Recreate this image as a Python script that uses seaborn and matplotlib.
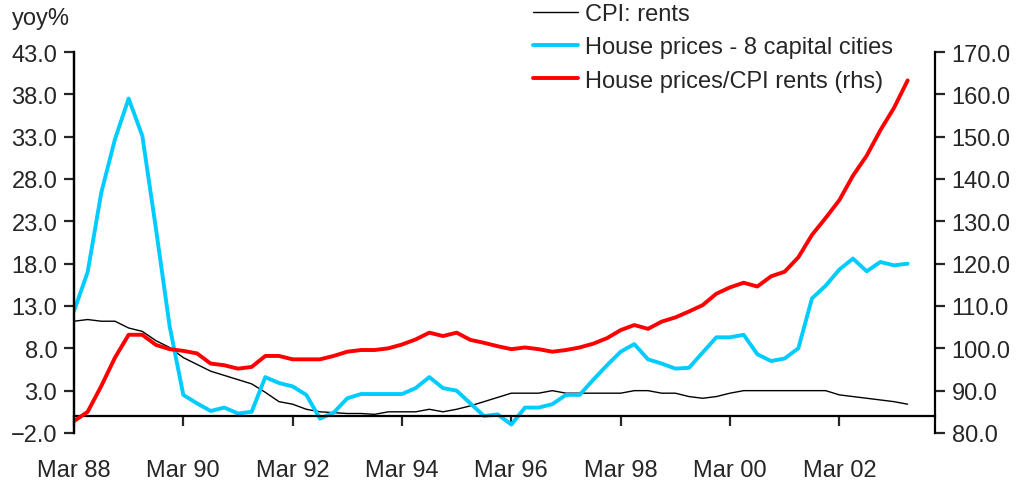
import numpy as np
import matplotlib
matplotlib.use("Agg")
import matplotlib.pyplot as plt
from matplotlib.ticker import FuncFormatter, FixedLocator
import seaborn as sns

# quarterly data, Mar 88 .. Jun 03
cpi_rents = [11.2, 11.4, 11.2, 11.2, 10.4, 10.0, 8.9, 8.1, 6.9, 6.1,
             5.3, 4.8, 4.3, 3.8, 2.8, 1.7, 1.4, 0.8, 0.5, 0.4,
             0.3, 0.3, 0.2, 0.5, 0.5, 0.5, 0.8, 0.5, 0.8, 1.2,
             1.7, 2.2, 2.7, 2.7, 2.7, 3.0, 2.7, 2.7, 2.7, 2.7,
             2.7, 3.0, 3.0, 2.7, 2.7, 2.3, 2.1, 2.3, 2.7, 3.0,
             3.0, 3.0, 3.0, 3.0, 3.0, 3.0, 2.5, 2.3, 2.1, 1.9,
             1.7, 1.4]
house_prices = [12.4, 17.0, 26.4, 32.7, 37.5, 33.1, 22.1, 10.6, 2.5, 1.5,
                0.6, 1.0, 0.3, 0.5, 4.6, 3.9, 3.5, 2.5, -0.3, 0.4,
                2.1, 2.6, 2.6, 2.6, 2.6, 3.3, 4.6, 3.3, 3.0, 1.5,
                0.0, 0.2, -1.0, 1.0, 1.0, 1.4, 2.5, 2.5, 4.3, 6.0,
                7.6, 8.5, 6.7, 6.2, 5.6, 5.7, 7.5, 9.3, 9.3, 9.6,
                7.3, 6.5, 6.8, 8.0, 13.9, 15.4, 17.3, 18.6, 17.1, 18.2,
                17.8, 18.0]
price_rent_ratio = [82.8, 85.0, 91.1, 97.8, 103.2, 103.2, 100.8, 99.8, 99.4, 98.8,
                    96.4, 96.0, 95.2, 95.6, 98.2, 98.2, 97.4, 97.4, 97.4, 98.2,
                    99.2, 99.6, 99.6, 100.0, 100.9, 102.1, 103.7, 102.9, 103.7, 102.0,
                    101.3, 100.5, 99.8, 100.2, 99.8, 99.2, 99.6, 100.2, 101.1, 102.4,
                    104.3, 105.5, 104.6, 106.3, 107.3, 108.7, 110.2, 112.9, 114.4, 115.5,
                    114.6, 117.0, 118.1, 121.5, 126.8, 130.8, 135.0, 140.8, 145.5, 151.5,
                    156.8, 163.3]
tick_labels = ["Mar 88", "Mar 90", "Mar 92", "Mar 94", "Mar 96", "Mar 98", "Mar 00", "Mar 02"]
left_ticks = [-2.0, 3.0, 8.0, 13.0, 18.0, 23.0, 28.0, 33.0, 38.0, 43.0]
right_ticks = [80.0, 90.0, 100.0, 110.0, 120.0, 130.0, 140.0, 150.0, 160.0, 170.0]

sns.set_style("ticks")
plt.rcParams['font.family'] = ['Liberation Sans', 'DejaVu Sans']
plt.rcParams['font.size'] = 17
plt.rcParams['axes.unicode_minus'] = True

q = np.arange(len(cpi_rents))

fig = plt.figure(figsize=(10.26, 4.85), dpi=100)
ax = fig.add_axes([0.0721, 0.1052, 0.8392, 0.7855])
ax2 = ax.twinx()

sns.lineplot(x=q, y=cpi_rents, ax=ax, color="black", linewidth=1.0, label="CPI: rents", legend=False)
sns.lineplot(x=q, y=house_prices, ax=ax, color="#00CCFF", linewidth=2.8,
             label="House prices - 8 capital cities", legend=False)
sns.lineplot(x=q, y=price_rent_ratio, ax=ax2, color="#FF0000", linewidth=2.8,
             label="House prices/CPI rents (rhs)", legend=False)

ax.set_xlim(0, 63)
ax.set_ylim(-2, 43)
ax2.set_ylim(80, 170)

fmt = FuncFormatter(lambda v, p: f"{v:.1f}".replace("-", "\u2212"))
ax.yaxis.set_major_locator(FixedLocator(left_ticks))
ax.yaxis.set_major_formatter(fmt)
ax2.yaxis.set_major_locator(FixedLocator(right_ticks))
ax2.yaxis.set_major_formatter(fmt)

ax.set_xticks(np.arange(0, 57, 8))
ax.set_xticklabels(tick_labels)

for a in (ax, ax2):
    a.spines['top'].set_visible(False)
    a.spines['bottom'].set_visible(False)
ax.spines['right'].set_visible(False)
ax.spines['bottom'].set_visible(True)
ax.spines['bottom'].set_position(('data', 0))
for a in (ax, ax2):
    for s in a.spines.values():
        s.set_linewidth(1.6)
        s.set_color("black")

ax.tick_params(axis='y', direction='out', length=7, width=1.6, pad=5, labelsize=17)
ax.tick_params(axis='x', direction='out', length=7, width=1.6, pad=24, labelsize=17)
ax2.tick_params(axis='y', direction='out', length=7, width=1.6, pad=5, labelsize=17)
ax.set_xlabel("")
ax.set_ylabel("")
ax2.set_ylabel("")

fig.text(12 / 1026, 1 - 8 / 485, "yoy%", ha='left', va='top', fontsize=17)

h1, l1 = ax.get_legend_handles_labels()
h2, l2 = ax2.get_legend_handles_labels()
fig.legend(h1 + h2, l1 + l2, loc='upper left', bbox_to_anchor=(533 / 1026, 1 - 4 / 485),
           frameon=False, fontsize=17, handlelength=1.9, handletextpad=0.3,
           labelspacing=0.48, borderpad=0, borderaxespad=0)

fig.savefig("out.png", dpi=100)
